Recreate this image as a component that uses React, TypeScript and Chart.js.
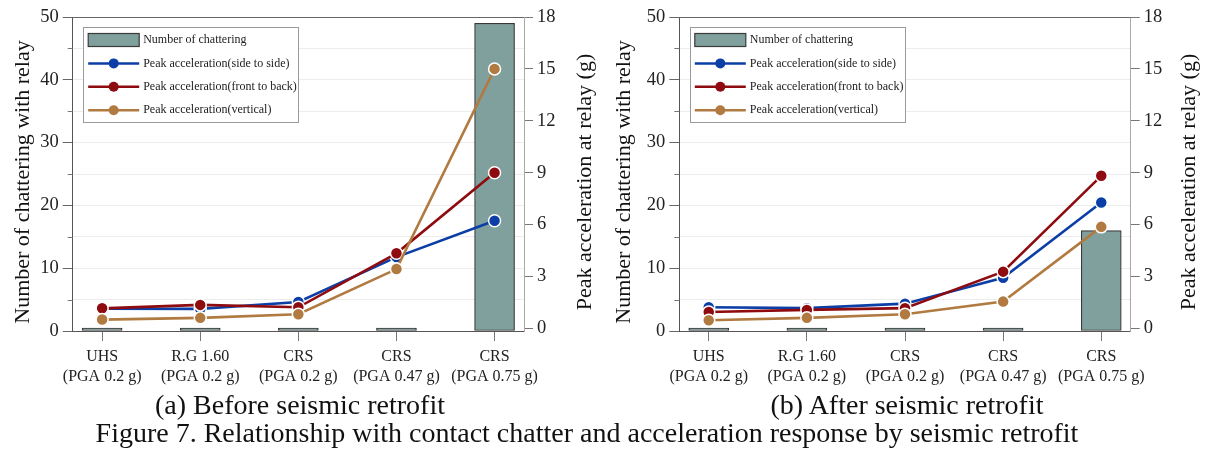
import React, { useEffect, useRef } from "react";
import { Chart, registerables } from "chart.js";

Chart.register(...registerables);

// ---------- data ----------
const categories: string[][] = [
  ["UHS", "(PGA 0.2 g)"],
  ["R.G 1.60", "(PGA 0.2 g)"],
  ["CRS", "(PGA 0.2 g)"],
  ["CRS", "(PGA 0.47 g)"],
  ["CRS", "(PGA 0.75 g)"],
];
const seriesNames = [
  "Number of chattering",
  "Peak acceleration(side to side)",
  "Peak acceleration(front to back)",
  "Peak acceleration(vertical)",
];
const beforeChattering = [0, 0, 0, 0, 49];
const beforeSide = [1.14, 1.13, 1.53, 4.12, 6.22];
const beforeFront = [1.16, 1.36, 1.22, 4.34, 9.0];
const beforeVertical = [0.51, 0.61, 0.82, 3.43, 15.0];

const afterChattering = [0, 0, 0, 0, 16];
const afterSide = [1.22, 1.17, 1.43, 2.93, 7.28];
const afterFront = [0.95, 1.07, 1.17, 3.28, 8.82];
const afterVertical = [0.47, 0.61, 0.82, 1.55, 5.87];

const rightTicks = [0, 3, 6, 9, 12, 15, 18];
const leftMinorTicks = [5, 15, 25, 35, 45];
const leftTitle = "Number of chattering with relay";
const rightTitle = "Peak acceleration at relay (g)";
const captionA = "(a) Before seismic retrofit";
const captionB = "(b) After seismic retrofit";
const figureCaption =
  "Figure 7. Relationship with contact chatter and acceleration response by seismic retrofit";

// ---------- styles ----------
const FONT = "'Liberation Serif', 'Times New Roman', serif";
const BAR_FILL = "#80a09e";
const BAR_EDGE = "#3a3a3a";
const BLUE = "#0c3fa6";
const RED = "#8e0b10";
const BROWN = "#b07a40";

const panelPlugin = (leftTitleOffset: number, rightTitleOffset: number) => ({
  id: "panelDecor",
  afterDraw(chart: any) {
    const { ctx, chartArea } = chart;
    const { left, right, top } = chartArea;
    const yScale = chart.scales.y;
    ctx.save();
    // top frame line
    ctx.strokeStyle = "#666";
    ctx.lineWidth = 1;
    ctx.beginPath();
    ctx.moveTo(left, Math.round(top) + 0.5);
    ctx.lineTo(right, Math.round(top) + 0.5);
    ctx.stroke();
    // minor ticks on left axis
    ctx.strokeStyle = "#777";
    leftMinorTicks.forEach((v) => {
      const y = Math.round(yScale.getPixelForValue(v)) + 0.5;
      ctx.beginPath();
      ctx.moveTo(left - 5, y);
      ctx.lineTo(left, y);
      ctx.stroke();
    });
    // axis titles (both read bottom-to-top)
    ctx.fillStyle = "#111";
    ctx.font = `22px ${FONT}`;
    ctx.textAlign = "center";
    ctx.textBaseline = "middle";
    const cy = 182;
    ctx.save();
    ctx.translate(left - leftTitleOffset, cy);
    ctx.rotate(-Math.PI / 2);
    ctx.fillText(leftTitle, 0, 0);
    ctx.restore();
    ctx.save();
    ctx.translate(right + rightTitleOffset, cy);
    ctx.rotate(-Math.PI / 2);
    ctx.fillText(rightTitle, 0, 0);
    ctx.restore();

    // legend
    const bx = left + 10.5;
    const by = top + 10;
    const bw = 215;
    const bh = 95;
    ctx.fillStyle = "#fff";
    ctx.fillRect(bx, by, bw, bh);
    ctx.strokeStyle = "#9a9a9a";
    ctx.lineWidth = 1;
    ctx.strokeRect(Math.round(bx) + 0.5, Math.round(by) + 0.5, bw, bh);
    ctx.font = `12px ${FONT}`;
    ctx.textAlign = "left";
    ctx.textBaseline = "middle";
    chart.data.datasets.forEach((ds: any, i: number) => {
      const ry = by + 13 + i * 23.4;
      const sx = bx + 5;
      const sw = 51;
      if (ds.type === "bar") {
        ctx.fillStyle = ds.backgroundColor;
        ctx.fillRect(sx, ry - 6.5, sw, 13);
        ctx.strokeStyle = BAR_EDGE;
        ctx.lineWidth = 1.2;
        ctx.strokeRect(sx, ry - 6.5, sw, 13);
      } else {
        ctx.strokeStyle = ds.borderColor;
        ctx.lineWidth = 2.5;
        ctx.beginPath();
        ctx.moveTo(sx, ry);
        ctx.lineTo(sx + sw, ry);
        ctx.stroke();
        ctx.fillStyle = ds.borderColor;
        ctx.beginPath();
        ctx.arc(sx + sw / 2, ry, 5, 0, Math.PI * 2);
        ctx.fill();
      }
      ctx.fillStyle = "#222";
      ctx.fillText(ds.label, bx + 60, ry);
    });
    ctx.restore();
  },
});

function makeConfig(
  bars: number[],
  side: number[],
  front: number[],
  vert: number[],
  canvasWidth: number,
  plotLeft: number,
  plotRight: number,
  leftTitleOffset: number,
  rightTitleOffset: number
): any {
  const pts = (arr: number[]) => arr.map((v, i) => ({ x: i, y: v }));
  const lineDs = (label: string, data: number[], color: string, order: number) => ({
    type: "line",
    label,
    data: pts(data),
    yAxisID: "y1",
    borderColor: color,
    backgroundColor: color,
    borderWidth: 2.6,
    pointRadius: 6,
    pointHoverRadius: 6,
    pointBackgroundColor: color,
    pointBorderColor: "#ffffff",
    pointBorderWidth: 1.5,
    tension: 0,
    order,
  });
  return {
    type: "bar",
    data: {
      datasets: [
        {
          type: "bar",
          label: seriesNames[0],
          data: pts(bars),
          yAxisID: "y",
          backgroundColor: BAR_FILL,
          borderColor: BAR_EDGE,
          borderWidth: 1.2,
          borderSkipped: false,
          barThickness: 40,
          minBarLength: 3,
          order: 4,
        },
        lineDs(seriesNames[1], side, BLUE, 3),
        lineDs(seriesNames[2], front, RED, 2),
        lineDs(seriesNames[3], vert, BROWN, 1),
      ],
    },
    options: {
      responsive: false,
      animation: false,
      layout: { padding: { top: 17, left: 0, right: 0, bottom: 0 } },
      plugins: { legend: { display: false }, tooltip: { enabled: false } },
      scales: {
        x: {
          type: "linear",
          offset: false,
          min: -0.3,
          max: 4.3,
          afterBuildTicks: (s: any) => {
            s.ticks = categories.map((_, i) => ({ value: i }));
          },
          ticks: {
            autoSkip: false,
            maxRotation: 0,
            callback: (v: number) => categories[v],
            font: { family: FONT, size: 16, lineHeight: 1.3 },
            color: "#222",
            padding: 5,
          },
          grid: { offset: false, drawOnChartArea: false, tickLength: 10, tickColor: "#777" },
          border: { color: "#555", width: 1 },
          afterFit: (s: any) => {
            s.height = 69;
          },
        },
        y: {
          position: "left",
          min: 0,
          max: 50,
          ticks: {
            stepSize: 5,
            callback: (v: number) => (v % 10 === 0 ? String(v) : ""),
            font: { family: FONT, size: 18.5 },
            color: "#222",
            padding: 4,
          },
          grid: {
            color: "#ececec",
            tickLength: 10,
            tickColor: (c: any) =>
              c.tick && c.tick.value % 10 === 0 ? "#666" : "rgba(0,0,0,0)",
          },
          border: { color: "#555", width: 1 },
          afterFit: (s: any) => {
            s.width = plotLeft;
          },
        },
        y1: {
          position: "right",
          min: -0.15,
          max: 18,
          afterBuildTicks: (s: any) => {
            s.ticks = rightTicks.map((v) => ({ value: v }));
          },
          ticks: {
            font: { family: FONT, size: 18.5 },
            color: "#222",
            padding: 4,
          },
          grid: { drawOnChartArea: false, tickLength: 9, tickColor: "#777" },
          border: { color: "#aaa", width: 1 },
          afterFit: (s: any) => {
            s.width = canvasWidth - plotRight;
          },
        },
      },
    },
    plugins: [panelPlugin(leftTitleOffset, rightTitleOffset)],
  };
}

function Panel(props: {
  left: number;
  width: number;
  bars: number[];
  side: number[];
  front: number[];
  vert: number[];
  plotLeft: number;
  plotRight: number;
  leftTitleOffset: number;
  rightTitleOffset: number;
}) {
  const ref = useRef<HTMLCanvasElement | null>(null);
  useEffect(() => {
    if (!ref.current) return;
    const chart = new Chart(
      ref.current,
      makeConfig(
        props.bars,
        props.side,
        props.front,
        props.vert,
        props.width,
        props.plotLeft,
        props.plotRight,
        props.leftTitleOffset,
        props.rightTitleOffset
      )
    );
    return () => chart.destroy();
  }, []);
  return (
    <canvas
      ref={ref}
      width={props.width}
      height={400}
      style={{ position: "absolute", left: props.left, top: 0, width: props.width, height: 400 }}
    />
  );
}

const captionStyle = (cx: number, cy: number): React.CSSProperties => ({
  position: "absolute",
  left: cx - 700,
  width: 1400,
  top: cy - 16,
  height: 32,
  lineHeight: "32px",
  textAlign: "center",
  fontFamily: FONT,
  fontSize: 28,
  color: "#111",
  whiteSpace: "nowrap",
});

export default function App() {
  return (
    <div
      style={{
        position: "absolute",
        left: 0,
        top: 0,
        width: 1205,
        height: 450,
        overflow: "hidden",
        background: "#fff",
      }}
    >
      <Panel
        left={0}
        width={600}
        bars={beforeChattering}
        side={beforeSide}
        front={beforeFront}
        vert={beforeVertical}
        plotLeft={72.7}
        plotRight={524}
        leftTitleOffset={49}
        rightTitleOffset={61}
      />
      <Panel
        left={607}
        width={598}
        bars={afterChattering}
        side={afterSide}
        front={afterFront}
        vert={afterVertical}
        plotLeft={72.3}
        plotRight={523.7}
        leftTitleOffset={55}
        rightTitleOffset={59}
      />
      <div style={captionStyle(300, 405)}>{captionA}</div>
      <div style={captionStyle(907, 405)}>{captionB}</div>
      <div style={captionStyle(587, 433)}>{figureCaption}</div>
    </div>
  );
}
